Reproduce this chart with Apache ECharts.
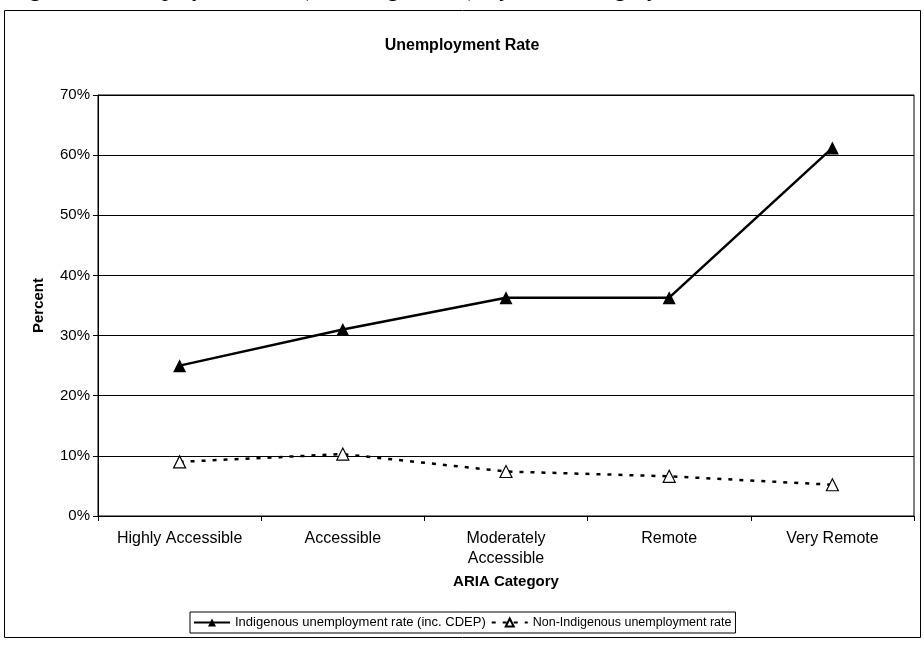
<!DOCTYPE html>
<html>
<head>
<meta charset="utf-8">
<script src="https://cdn.jsdelivr.net/npm/echarts@6/dist/echarts.min.js"></script>
<style>html,body{margin:0;padding:0;background:#fff}#c{width:924px;height:646px}</style>
</head>
<body>
<div id="c"></div>
<script>
const categories = ['Highly Accessible', 'Accessible', 'Moderately\nAccessible', 'Remote', 'Very Remote'];
const indigenous = [25.0, 31.0, 36.3, 36.3, 61.2];
const nonIndigenous = [9.0, 10.3, 7.4, 6.6, 5.2];
const seriesNames = ['Indigenous unemployment rate (inc. CDEP)', 'Non-Indigenous unemployment rate'];
const yTicks = { min: 0, max: 70, interval: 10 };

const font = 'Liberation Sans, Arial, sans-serif';
const chart = echarts.init(document.getElementById('c'), null, { renderer: 'canvas' });
chart.setOption({
  backgroundColor: '#fff',
  animation: false,
  title: {
    text: 'Unemployment Rate', left: 'center', top: 33,
    textStyle: { fontFamily: font, fontSize: 16, fontWeight: 'bold', color: '#000' }
  },
  graphic: [
    { type: 'rect', shape: { x: 4.5, y: 10.5, width: 916, height: 627 }, style: { fill: null, stroke: '#000', lineWidth: 1 }, z: -1 },
    { type: 'text', x: 10, y: -22, style: { text: 'Figure 6: Unemployment rate (including CDEP), by ARIA category', font: 'italic 24px "Liberation Serif", serif', fill: '#000', verticalAlign: 'top' } }
  ],
  legend: {
    left: 190, top: 612, orient: 'horizontal', width: 800,
    itemWidth: 36, itemHeight: 10, itemGap: 5,
    padding: [4, 4, 4, 3],
    borderColor: '#000', borderWidth: 1,
    textStyle: { fontFamily: font, fontSize: 13, color: '#000' },
    data: [
      { name: seriesNames[0] },
      { name: seriesNames[1], textStyle: { fontSize: 12.5 } }
    ]
  },
  grid: { left: 98, right: 10, top: 95, bottom: 130, show: true, borderColor: '#000', borderWidth: 1, containLabel: false },
  xAxis: {
    type: 'category', data: categories, boundaryGap: true,
    name: 'ARIA Category', nameLocation: 'middle', nameGap: 56,
    nameTextStyle: { fontFamily: font, fontSize: 15, fontWeight: 'bold', color: '#000' },
    axisLine: { lineStyle: { color: '#000', width: 1 } },
    axisTick: { show: true, length: 5, lineStyle: { color: '#000' } },
    axisLabel: { fontFamily: font, fontSize: 16, color: '#000', margin: 13, lineHeight: 20, interval: 0 },
    splitLine: { show: false }
  },
  yAxis: {
    type: 'value', min: yTicks.min, max: yTicks.max, interval: yTicks.interval,
    name: 'Percent', nameLocation: 'middle', nameGap: 52, nameRotate: 90,
    nameTextStyle: { fontFamily: font, fontSize: 15, fontWeight: 'bold', color: '#000' },
    axisLine: { show: true, lineStyle: { color: '#000', width: 1 } },
    axisTick: { show: true, length: 5, lineStyle: { color: '#000' } },
    axisLabel: { fontFamily: font, fontSize: 15, color: '#000', margin: 8, formatter: '{value}%' },
    splitLine: { show: true, lineStyle: { color: '#000', width: 1 } }
  },
  series: [
    {
      name: seriesNames[0], type: 'line', data: indigenous,
      symbol: 'triangle', symbolSize: 13,
      lineStyle: { color: '#000', width: 2.5, type: 'solid' },
      itemStyle: { color: '#000', borderColor: '#000', borderWidth: 0 }
    },
    {
      name: seriesNames[1], type: 'line', data: nonIndigenous,
      symbol: 'triangle', symbolSize: 12,
      lineStyle: { color: '#000', width: 2.5, type: [4, 7] },
      itemStyle: { color: '#fff', borderColor: '#000', borderWidth: 1.2 }
    }
  ]
});
</script>
</body>
</html>
